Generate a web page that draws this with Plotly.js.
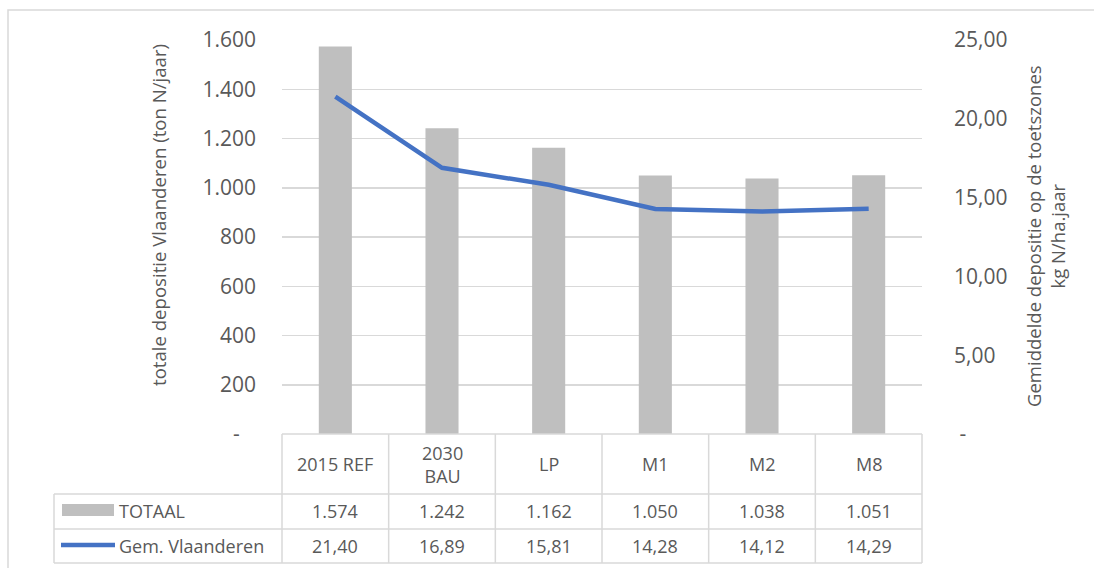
<!DOCTYPE html>
<html>
<head>
<meta charset="utf-8">
<script src="https://cdn.plot.ly/plotly-3.0.1.min.js"></script>
<style>html,body{margin:0;padding:0;background:#fff;}#chart{width:1094px;height:568px;}</style>
</head>
<body>
<div id="chart"></div>
<script>
// ---- data ----
var categories = ['2015 REF', '2030 BAU', 'LP', 'M1', 'M2', 'M8'];
var headerLabels = ['2015 REF', '2030<br>BAU', 'LP', 'M1', 'M2', 'M8'];
var totaal = [1574, 1242, 1162, 1050, 1038, 1051];
var gemVlaanderen = [21.40, 16.89, 15.81, 14.28, 14.12, 14.29];
var seriesNames = ['TOTAAL', 'Gem. Vlaanderen'];
var leftTickVals = [0, 200, 400, 600, 800, 1000, 1200, 1400, 1600];
var leftTickText = ['-\u00a0\u00a0\u00a0', '200', '400', '600', '800', '1.000', '1.200', '1.400', '1.600'];
var rightTickVals = [0, 5, 10, 15, 20, 25];
var rightTickText = ['\u00a0-', '5,00', '10,00', '15,00', '20,00', '25,00'];
var leftTitle = 'totale depositie Vlaanderen (ton N/jaar)';
var rightTitle = 'Gemiddelde depositie op de toetszones<br>kg N/ha.jaar';

function fmtThousands(v) {
  var s = String(Math.round(v));
  return s.replace(/\B(?=(\d{3})+(?!\d))/g, '.');
}
function fmtDec(v) { return v.toFixed(2).replace('.', ','); }

var textColor = '#595959';
var gridColor = '#D9D9D9';
var barColor = '#BFBFBF';
var lineColor = '#4472C4';
var font = 'Open Sans, sans-serif';

// pixel geometry helpers (plot area: x 282..922, y 40..434)
var PL = 282, PR = 922, PT = 40, PB = 434;
var PW = PR - PL, PH = PB - PT;
function px(x) { return (x - PL) / PW; }
function py(y) { return (PB - y) / PH; }

var traces = [
  {
    type: 'bar', x: categories, y: totaal, name: seriesNames[0],
    marker: {color: barColor}, width: 0.31, yaxis: 'y', hoverinfo: 'skip'
  },
  {
    type: 'scatter', mode: 'lines', x: categories, y: gemVlaanderen, name: seriesNames[1],
    line: {color: lineColor, width: 4.5}, yaxis: 'y2', hoverinfo: 'skip'
  }
];

var rowHeaderY = py(464), row1Y = py(511), row2Y = py(546);
var annotations = [];
for (var i = 0; i < categories.length; i++) {
  annotations.push({x: categories[i], xref: 'x', y: rowHeaderY, yref: 'paper', text: headerLabels[i],
    showarrow: false, font: {family: font, size: 18, color: textColor}, xanchor: 'center', yanchor: 'middle'});
  annotations.push({x: categories[i], xref: 'x', y: row1Y, yref: 'paper', text: fmtThousands(totaal[i]),
    showarrow: false, font: {family: font, size: 18, color: textColor}, xanchor: 'center', yanchor: 'middle'});
  annotations.push({x: categories[i], xref: 'x', y: row2Y, yref: 'paper', text: fmtDec(gemVlaanderen[i]),
    showarrow: false, font: {family: font, size: 18, color: textColor}, xanchor: 'center', yanchor: 'middle'});
}
annotations.push({x: px(117), xref: 'paper', y: row1Y, yref: 'paper', text: seriesNames[0], showarrow: false,
  font: {family: font, size: 18, color: textColor}, xanchor: 'left', yanchor: 'middle'});
annotations.push({x: px(117), xref: 'paper', y: row2Y, yref: 'paper', text: seriesNames[1], showarrow: false,
  font: {family: font, size: 18, color: textColor}, xanchor: 'left', yanchor: 'middle'});
annotations.push({x: px(158), xref: 'paper', y: py(215), yref: 'paper', text: leftTitle, textangle: -90,
  showarrow: false, font: {family: font, size: 18.6, color: textColor}, xanchor: 'center', yanchor: 'middle'});
annotations.push({x: px(1045), xref: 'paper', y: py(236), yref: 'paper', text: rightTitle, textangle: -90,
  showarrow: false, font: {family: font, size: 18.5, color: textColor}, xanchor: 'center', yanchor: 'middle'});

var shapes = [];
var bw = 1.5;
// outer chart border
shapes.push({type: 'rect', xref: 'paper', yref: 'paper', x0: px(8), x1: px(1100), y0: py(10), y1: py(580),
  line: {color: gridColor, width: 1.5}, fillcolor: 'rgba(0,0,0,0)', layer: 'below'});
// table horizontal lines
shapes.push({type: 'line', xref: 'paper', yref: 'paper', x0: 0, x1: 1, y0: py(434), y1: py(434), line: {color: gridColor, width: bw}});
[494, 529, 563].forEach(function (yy) {
  shapes.push({type: 'line', xref: 'paper', yref: 'paper', x0: px(54), x1: 1, y0: py(yy), y1: py(yy), line: {color: gridColor, width: bw}});
});
// table vertical lines
for (var k = 0; k <= categories.length; k++) {
  shapes.push({type: 'line', xref: 'paper', yref: 'paper', x0: k / categories.length, x1: k / categories.length,
    y0: py(434), y1: py(563), line: {color: gridColor, width: bw}});
}
shapes.push({type: 'line', xref: 'paper', yref: 'paper', x0: px(54), x1: px(54), y0: py(494), y1: py(563), line: {color: gridColor, width: bw}});
// legend keys
shapes.push({type: 'rect', xref: 'paper', yref: 'paper', x0: px(62), x1: px(114), y0: py(504), y1: py(516),
  line: {width: 0}, fillcolor: barColor});
shapes.push({type: 'line', xref: 'paper', yref: 'paper', x0: px(61), x1: px(115), y0: py(545), y1: py(545),
  line: {color: lineColor, width: 4.5}});

var layout = {
  width: 1094, height: 568,
  margin: {l: PL, r: 1094 - PR, t: PT, b: 568 - PB, pad: 0},
  paper_bgcolor: '#ffffff', plot_bgcolor: '#ffffff',
  showlegend: false,
  font: {family: font, color: textColor},
  bargap: 0.69,
  xaxis: {type: 'category', range: [-0.5, 5.5], showticklabels: false, showgrid: false, zeroline: false,
    showline: false, fixedrange: true},
  yaxis: {range: [0, 1600], tickvals: leftTickVals, ticktext: leftTickText, showgrid: true, gridcolor: gridColor,
    gridwidth: 1.5, zeroline: false, showline: false, ticks: '', ticklabelstandoff: 25,
    tickfont: {family: font, size: 21, color: textColor}},
  yaxis2: {range: [0, 25], overlaying: 'y', side: 'right', tickvals: rightTickVals, ticktext: rightTickText,
    showgrid: false, zeroline: false, showline: false, ticks: '', ticklabelstandoff: 31,
    tickfont: {family: font, size: 21, color: textColor}},
  annotations: annotations,
  shapes: shapes
};

Plotly.newPlot('chart', traces, layout, {displayModeBar: false, staticPlot: true});
</script>
</body>
</html>
